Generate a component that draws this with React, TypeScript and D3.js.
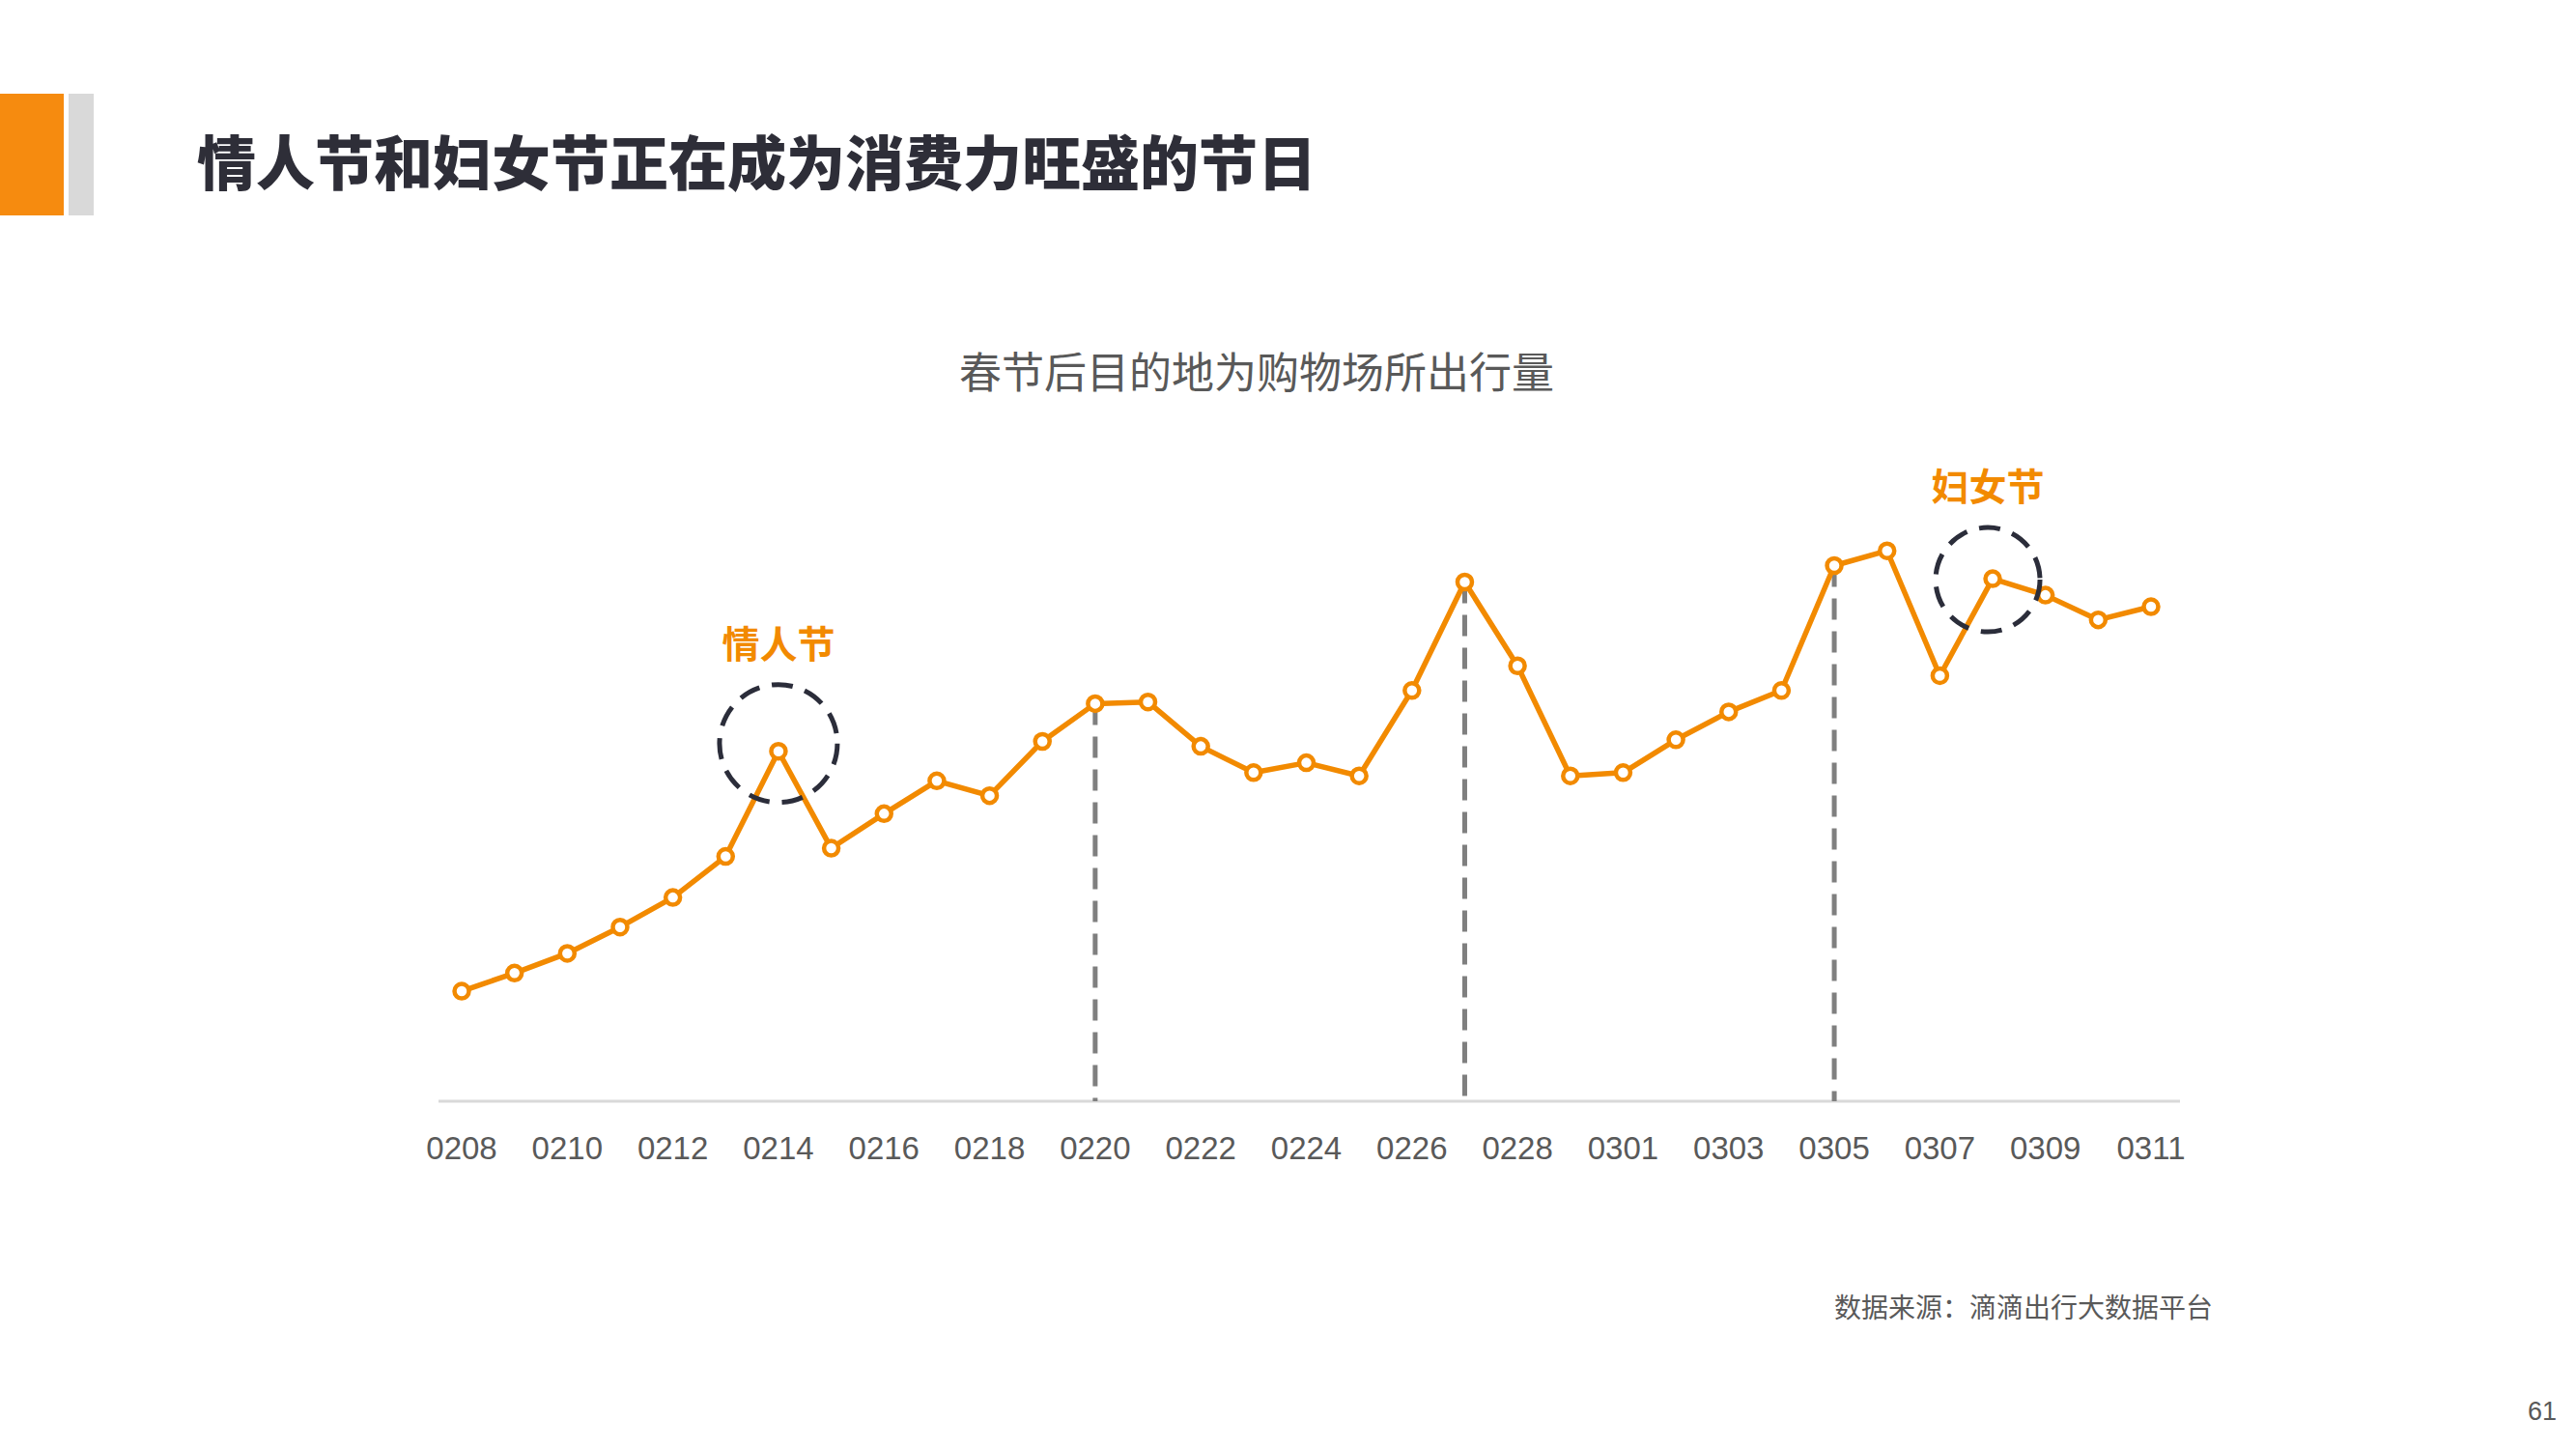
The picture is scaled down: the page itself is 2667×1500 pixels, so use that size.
import React from 'react';
import * as d3 from 'd3';

// 日期（2016年，含0229）
const dates = [
  '0208', '0209', '0210', '0211', '0212', '0213', '0214', '0215', '0216', '0217', '0218',
  '0219', '0220', '0221', '0222', '0223', '0224', '0225', '0226', '0227', '0228', '0229',
  '0301', '0302', '0303', '0304', '0305', '0306', '0307', '0308', '0309', '0310', '0311',
];

// 出行量指数
const trips = [
  67, 78, 90, 106, 124, 149, 213, 154, 175, 195, 186,
  219, 242, 243, 216, 200, 206, 198, 250, 316, 265, 198,
  200, 220, 237, 250, 326, 335, 259, 318, 308, 293, 301,
];

// 只显示隔天的刻度
const tickLabels = dates.filter((_, i) => i % 2 === 0);

// 虚线标记的日期
const markerDates = ['0220', '0227', '0305'];

// 圈出的节日
const holidays = [
  { date: '0214', label: '情人节' },
  { date: '0308', label: '妇女节' },
];

const W = 2667;
const H = 1500;
const ORANGE = '#f28a00';
const GREY_TEXT = '#595959';

const App: React.FC = () => {
  const x = d3.scalePoint<string>().domain(dates).range([478, 2227]);
  const y = d3.scaleLinear().domain([0, 400]).range([1140, 1140 - 400 * 1.7009]);

  const data = dates.map((d, i) => ({ date: d, value: trips[i] }));

  const line = d3
    .line<{ date: string; value: number }>()
    .x((d) => x(d.date) as number)
    .y((d) => y(d.value));

  const valueOf = (d: string) => trips[dates.indexOf(d)];

  return (
    <svg
      width={W}
      height={H}
      viewBox={`0 0 ${W} ${H}`}
      style={{ position: 'absolute', left: 0, top: 0, background: '#fff' }}
    >
      {/* 页眉色块 */}
      <rect x={0} y={97} width={66} height={126} fill="#f68b0f" />
      <rect x={71} y={97} width={26} height={126} fill="#d9d9d9" />

      <text
        x={204}
        y={192}
        fontFamily="'Noto Sans CJK SC', sans-serif"
        fontWeight={900}
        fontSize={61}
        fill="#2e2e38"
      >
        情人节和妇女节正在成为消费力旺盛的节日
      </text>

      <text
        x={1301}
        y={402}
        textAnchor="middle"
        fontFamily="'Noto Sans CJK SC', sans-serif"
        fontSize={44}
        fill={GREY_TEXT}
      >
        春节后目的地为购物场所出行量
      </text>

      {/* 横轴 */}
      <line x1={454} x2={2257} y1={1140} y2={1140} stroke="#d9d9d9" strokeWidth={3} />
      {tickLabels.map((t) => (
        <text
          key={t}
          x={x(t)}
          y={1200}
          textAnchor="middle"
          fontFamily="'Liberation Sans', Arial, sans-serif"
          fontSize={33}
          fill={GREY_TEXT}
        >
          {t}
        </text>
      ))}

      {/* 竖向虚线 */}
      {markerDates.map((d) => (
        <line
          key={d}
          x1={x(d)}
          x2={x(d)}
          y1={y(valueOf(d))}
          y2={1140}
          stroke="#7f7f7f"
          strokeWidth={5}
          strokeDasharray="22 12"
        />
      ))}

      {/* 折线 */}
      <path d={line(data) || ''} fill="none" stroke={ORANGE} strokeWidth={5.5} strokeLinejoin="round" />
      {data.map((d) => (
        <circle
          key={d.date}
          cx={x(d.date)}
          cy={y(d.value)}
          r={7.5}
          fill="#fff"
          stroke={ORANGE}
          strokeWidth={4.5}
        />
      ))}

      {/* 节日标注 */}
      {holidays.map((h, i) => {
        const cx = (x(h.date) as number) + (i === 0 ? 0 : -5);
        const cy = y(valueOf(h.date)) + (i === 0 ? -8 : 1);
        const r = i === 0 ? 61 : 54;
        return (
          <g key={h.date}>
            <circle
              cx={cx}
              cy={cy}
              r={r}
              fill="none"
              stroke="#2b2d3a"
              strokeWidth={5}
              strokeDasharray="22 13"
            />
            <text
              x={cx}
              y={cy - r - 28}
              textAnchor="middle"
              fontFamily="'Noto Sans CJK SC', sans-serif"
              fontWeight={700}
              fontSize={39}
              fill={ORANGE}
            >
              {h.label}
            </text>
          </g>
        );
      })}

      <text
        x={2291}
        y={1364}
        textAnchor="end"
        fontFamily="'Noto Sans CJK SC', sans-serif"
        fontSize={28}
        fill={GREY_TEXT}
      >
        数据来源：滴滴出行大数据平台
      </text>

      <text
        x={2647}
        y={1470}
        textAnchor="end"
        fontFamily="'Liberation Sans', Arial, sans-serif"
        fontSize={27}
        fill={GREY_TEXT}
      >
        61
      </text>
    </svg>
  );
};

export default App;
